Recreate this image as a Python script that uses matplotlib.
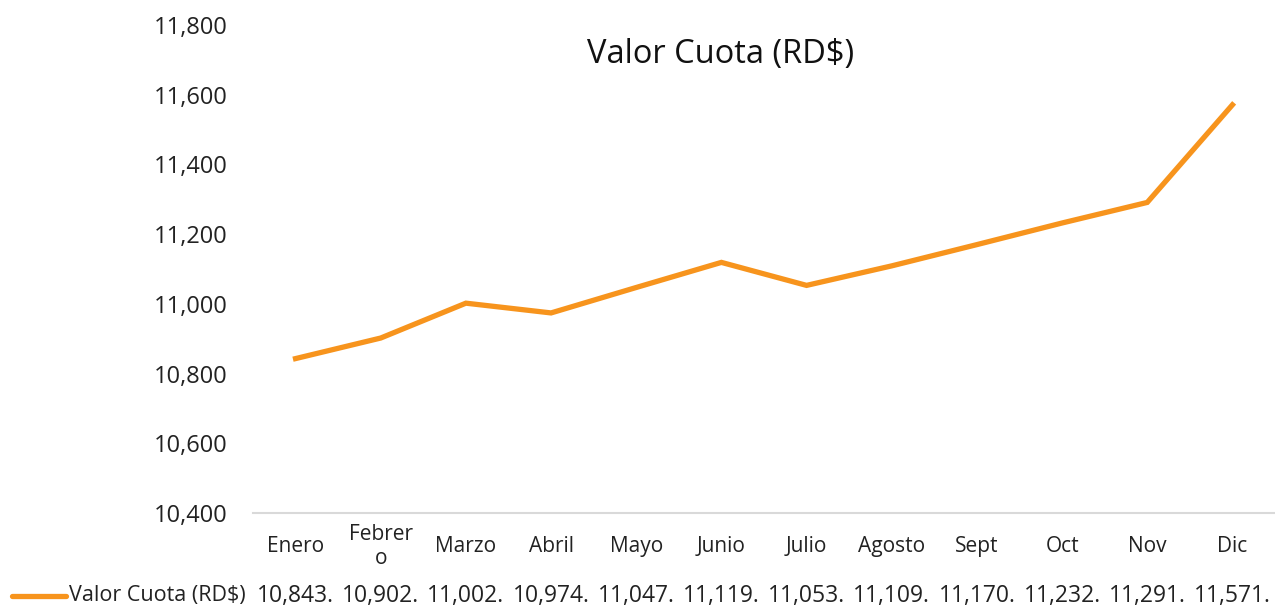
import matplotlib
matplotlib.use("Agg")
import matplotlib.pyplot as plt
import matplotlib.transforms as mtransforms

plt.rcParams['font.family'] = ['Open Sans', 'DejaVu Sans']

months = ["Enero", "Febrer\no", "Marzo", "Abril", "Mayo", "Junio", "Julio",
          "Agosto", "Sept", "Oct", "Nov", "Dic"]
values = [10843, 10902, 11002, 10974, 11047, 11119, 11053, 11109, 11170,
          11232, 11291, 11571]
series_name = "Valor Cuota (RD$)"
yticks = [10400, 10600, 10800, 11000, 11200, 11400, 11600, 11800]
color = "#F7941D"

fig = plt.figure(figsize=(12.75, 6.10), dpi=100)
ax = fig.add_axes([0.1984, 0.159, 0.8016, 0.800])
x = list(range(len(months)))
ax.plot(x, values, color=color, linewidth=3.8, solid_joinstyle='miter')
ax.set_xlim(-0.5, len(months) - 0.5)
ax.set_ylim(yticks[0], yticks[-1])
ax.set_yticks(yticks)
ax.set_yticklabels([f"{v:,}" for v in yticks], fontsize=17, color="#222222")
ax.tick_params(axis='y', length=0, pad=18)
ax.set_xticks(x)
ax.set_xticklabels(months, fontsize=15, color="#222222", va='center', linespacing=1.15)
ax.tick_params(axis='x', length=0, pad=24)
for s in ["top", "right", "left"]:
    ax.spines[s].set_visible(False)
ax.spines["bottom"].set_color("#D9D9D9")
ax.spines["bottom"].set_linewidth(1.5)

fig.text(0.565, 1 - 55 / 610, series_name, fontsize=23.5, ha='center', va='center', color="#111111")

# data table row
trans = mtransforms.blended_transform_factory(ax.transData, fig.transFigure)
ty = 1 - 596 / 610
for xi, v in zip(x, values):
    ax.text(xi, ty, f"{v:,}.", transform=trans, ha='center', va='center',
            fontsize=16.5, color="#222222", clip_on=False)
fig.add_artist(plt.Line2D([12 / 1275, 66 / 1275], [ty, ty], color=color,
                          linewidth=3.8, solid_capstyle='round', transform=fig.transFigure))
fig.text(69 / 1275, ty, series_name, fontsize=15.5, ha='left', va='center', color="#222222")

fig.savefig("out.png", dpi=100)
